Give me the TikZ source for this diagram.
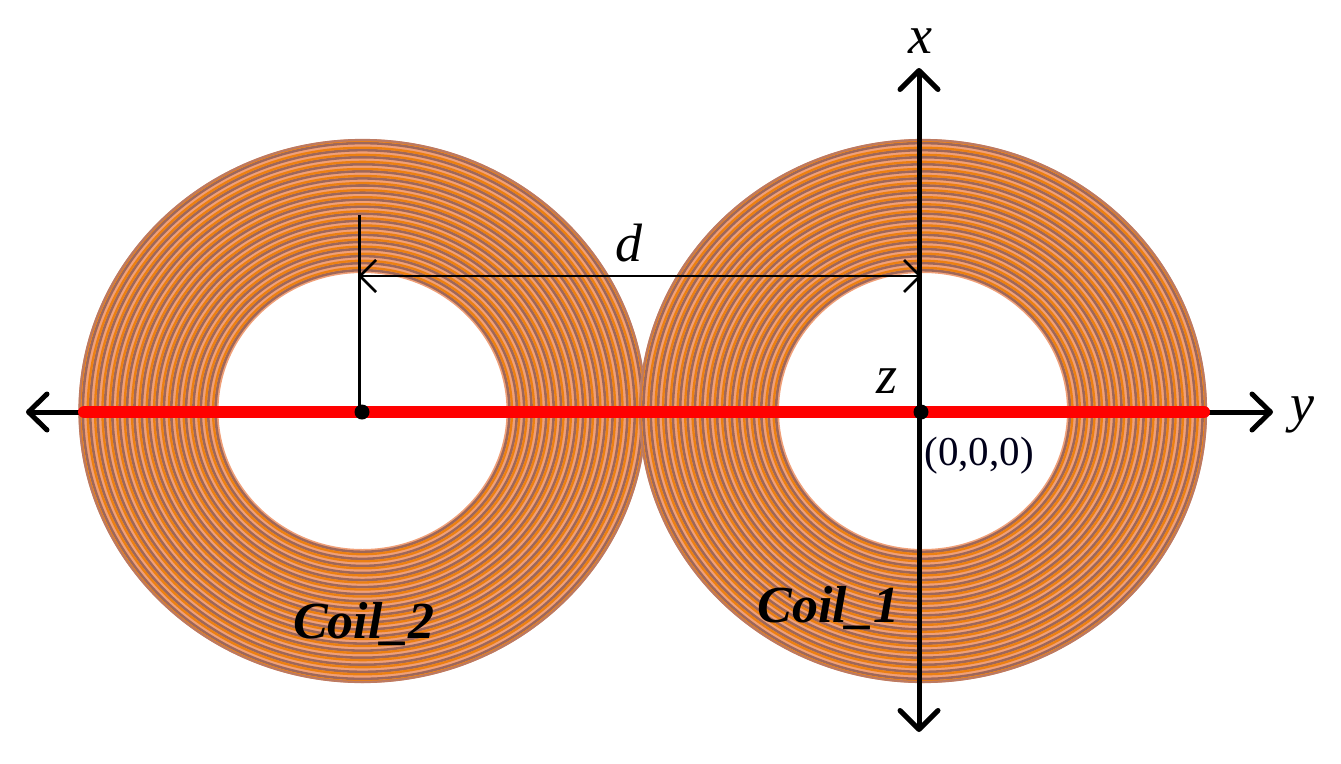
\documentclass[tikz,border=0pt]{standalone}
\usepackage{fontspec}
\setmainfont{Liberation Serif}
\definecolor{coilbase}{HTML}{F0A078}
\definecolor{coilbrown}{HTML}{9E675A}
\definecolor{coilorange}{HTML}{EC8012}
\definecolor{coiledge}{HTML}{BC7A62}
\definecolor{axisred}{HTML}{FF0000}
\newcommand{\coilrings}[1]{%
  \fill[coilbase,even odd rule] (#1) ellipse [x radius=284,y radius=272] (#1) ellipse [x radius=144,y radius=138];
  \foreach \i in {0,...,18}{
    \pgfmathsetmacro{\rxa}{144+7.37*\i+3.0}
    \pgfmathsetmacro{\rya}{\rxa*0.958}
    \pgfmathsetmacro{\rxb}{144+7.37*\i+5.5}
    \pgfmathsetmacro{\ryb}{\rxb*0.958}
    \draw[coilbrown,line width=2.6] (#1) ellipse [x radius=\rxa,y radius=\rya];
    \draw[coilorange,line width=2.3] (#1) ellipse [x radius=\rxb,y radius=\ryb];
  }
  \draw[coiledge,line width=2.2] (#1) ellipse [x radius=283,y radius=271];
}
\tikzset{
  axisline/.style={line width=5,black},
  chevron/.style={line width=5,black,line cap=round,line join=round},
  dimline/.style={line width=2.5,black},
  dimchevron/.style={line width=2.5,black,line join=round},
  redline/.style={line width=12,axisred,line cap=round},
  dotmark/.style={circle,fill=black,inner sep=0,minimum size=15},
  coillabel/.style={font=\fontsize{52}{52}\selectfont\bfseries\itshape,inner sep=0,anchor=base},
  axislabel/.style={font=\fontsize{54}{54}\selectfont\itshape,inner sep=0,anchor=base},
  originlabel/.style={font=\fontsize{41}{41}\selectfont,inner sep=0,anchor=base,text=black!90!blue}
}
\begin{document}
\begin{tikzpicture}[x=1pt,y=-1pt]
\useasboundingbox (0,0) rectangle (1341,763);
\coordinate (c2) at (362.5,411);
\coordinate (c1) at (923,411);
\coilrings{c2}
\coilrings{c1}
\coordinate (yL) at (28.5,412);
\coordinate (yR) at (1270.5,412);
\coordinate (xT) at (919,70.5);
\coordinate (xB) at (919,729.5);
\coordinate (rL) at (84,412);
\coordinate (rR) at (1204,412);
\coordinate (dL) at (360,276);
\coordinate (dR) at (920,276);
\coordinate (dTop) at (359.5,215);
\coordinate (dBot) at (359.5,410);
% y axis
\draw[axisline] (yL) -- (yR);
\draw[chevron] ([shift={(18.5,-18)}]yL) -- (yL) -- ([shift={(18.5,18)}]yL);
\draw[chevron] ([shift={(-18.5,-18)}]yR) -- (yR) -- ([shift={(-18.5,18)}]yR);
\draw[redline] (rL) -- (rR);
% x axis
\draw[axisline] (xB) -- (xT);
\draw[chevron] ([shift={(-19,19)}]xT) -- (xT) -- ([shift={(19,19)}]xT);
\draw[chevron] ([shift={(-19,-19)}]xB) -- (xB) -- ([shift={(19,-19)}]xB);
\node[dotmark] (o2) at (362,412) {};
\node[dotmark] (o1) at (921,412) {};
% distance d
\draw[dimline] (dTop) -- (dBot);
\draw[dimline] (dL) -- (dR);
\draw[dimchevron] ([shift={(16,-16)}]dL) -- (dL) -- ([shift={(16,16)}]dL);
\draw[dimchevron] ([shift={(-16,-16)}]dR) -- (dR) -- ([shift={(-16,16)}]dR);
\node[axislabel] (ld) at (629,261) {d};
\node[axislabel] (lx) at (920,53) {x};
\node[axislabel] (ly) at (1302,421) {y};
\node[axislabel] (lz) at (887,393) {z};
\node[originlabel] (lo) at (979,465) {(0,0,0)};
\node[coillabel] (l2) at (364,638) {Coil\_2};
\node[coillabel] (l1) at (828.5,622) {Coil\_1};
\end{tikzpicture}
\end{document}
